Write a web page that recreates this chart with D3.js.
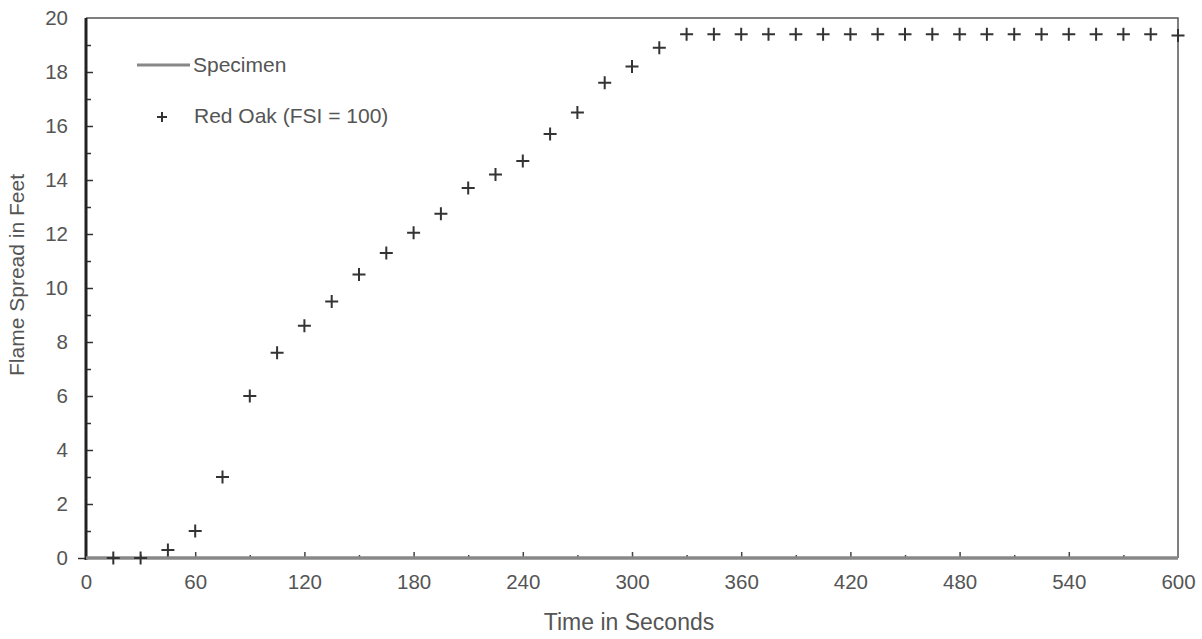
<!DOCTYPE html>
<html>
<head>
<meta charset="utf-8">
<script src="https://cdn.jsdelivr.net/npm/d3@7"></script>
<style>
  body { margin: 0; background: #fff; }
  text { font-family: "Liberation Sans", Arial, sans-serif; fill: #555; }
</style>
</head>
<body>
<div id="chart"></div>
<script>
// Red Oak reference flame spread, sampled every 15 s
var oakTimes = [15, 30, 45, 60, 75, 90, 105, 120, 135, 150, 165, 180, 195, 210, 225, 240,
  255, 270, 285, 300, 315, 330, 345, 360, 375, 390, 405, 420, 435, 450, 465, 480, 495,
  510, 525, 540, 555, 570, 585, 600];
var oakSpread = [0, 0, 0.3, 1.0, 3.0, 6.0, 7.6, 8.6, 9.5, 10.5, 11.3, 12.05, 12.75, 13.7, 14.2, 14.7,
  15.7, 16.5, 17.6, 18.2, 18.9, 19.4, 19.4, 19.4, 19.4, 19.4, 19.4, 19.4, 19.4, 19.4, 19.4, 19.4, 19.4,
  19.4, 19.4, 19.4, 19.4, 19.4, 19.4, 19.35];
// Specimen flame spread (stays at zero)
var specimenTimes = [0, 600];
var specimenSpread = [0, 0];
var xTicks = [0, 60, 120, 180, 240, 300, 360, 420, 480, 540, 600];
var yTicks = [0, 2, 4, 6, 8, 10, 12, 14, 16, 18, 20];

var margin = {top: 18, right: 24, bottom: 81, left: 86},
    width = 1202 - margin.left - margin.right,
    height = 639 - margin.top - margin.bottom;

var svg = d3.select("#chart").append("svg")
    .attr("width", 1202)
    .attr("height", 639)
    .append("g")
    .attr("transform", "translate(" + margin.left + "," + margin.top + ")");

var x = d3.scaleLinear().domain([0, 600]).range([0, width]);
var y = d3.scaleLinear().domain([0, 20]).range([height, 0]);

// frame top and right
svg.append("path")
    .attr("d", "M0," + y(20) + "H" + x(600) + "V" + y(0))
    .attr("fill", "none")
    .attr("stroke", "#555")
    .attr("stroke-width", 1.5);

// minor ticks (inside)
svg.append("g")
    .attr("transform", "translate(0," + height + ")")
    .call(d3.axisTop(x).tickValues(d3.range(30, 600, 60)).tickSize(3).tickFormat(""))
    .call(g => g.select(".domain").remove())
    .selectAll("line").attr("stroke", "#444").attr("stroke-width", 1.5);

svg.append("g")
    .call(d3.axisRight(y).tickValues(d3.range(1, 20, 2)).tickSize(5).tickFormat(""))
    .call(g => g.select(".domain").remove())
    .selectAll("line").attr("stroke", "#333").attr("stroke-width", 1.5);

// x axis
var xAxis = svg.append("g")
    .attr("transform", "translate(0," + height + ")");
xAxis.call(d3.axisBottom(x).tickValues(xTicks).tickSize(0).tickPadding(16))
    .call(g => g.select(".domain").remove());
xAxis.selectAll("text").style("font-size", "20.5px").style("fill", "#555");
svg.append("g")
    .attr("transform", "translate(0," + height + ")")
    .call(d3.axisTop(x).tickValues(xTicks.slice(1, -1)).tickSize(6).tickFormat(""))
    .call(g => g.select(".domain").remove())
    .selectAll("line").attr("stroke", "#444").attr("stroke-width", 1.5);

// y axis
var yAxis = svg.append("g");
yAxis.call(d3.axisLeft(y).tickValues(yTicks).tickSize(0).tickPadding(18))
    .call(g => g.select(".domain").remove());
yAxis.selectAll("text").style("font-size", "20.5px").style("fill", "#555");
svg.append("g")
    .call(d3.axisRight(y).tickValues(yTicks.slice(1, -1)).tickSize(7).tickFormat(""))
    .call(g => g.select(".domain").remove())
    .selectAll("line").attr("stroke", "#333").attr("stroke-width", 1.5);
svg.append("g")
    .call(d3.axisLeft(y).tickValues([0]).tickSize(8).tickFormat(""))
    .call(g => g.select(".domain").remove())
    .selectAll("line").attr("stroke", "#333").attr("stroke-width", 1.5);

svg.append("line")
    .attr("x1", 0).attr("x2", 0)
    .attr("y1", y(20)).attr("y2", y(0) + 2)
    .attr("stroke", "#222")
    .attr("stroke-width", 3);

// specimen line
var line = d3.line().x(d => x(d[0])).y(d => y(d[1]));
svg.append("path")
    .datum(specimenTimes.map((t, i) => [t, specimenSpread[i]]))
    .attr("d", line)
    .attr("fill", "none")
    .attr("stroke", "#888")
    .attr("stroke-width", 3.5);

// red oak markers
svg.append("g")
    .selectAll("path")
    .data(oakTimes.map((t, i) => [t, oakSpread[i]]))
    .enter().append("path")
    .attr("d", d => "M" + (x(d[0]) - 6.5) + "," + y(d[1]) + "h13M" + x(d[0]) + "," + (y(d[1]) - 6.5) + "v13")
    .attr("stroke", "#333")
    .attr("stroke-width", 2);

// legend
svg.append("line")
    .attr("x1", 51).attr("x2", 104)
    .attr("y1", 47).attr("y2", 47)
    .attr("stroke", "#888")
    .attr("stroke-width", 3);
svg.append("text")
    .attr("x", 107).attr("y", 54)
    .style("font-size", "21px")
    .text("Specimen");
svg.append("path")
    .attr("d", "M71,99h10M76,94v10")
    .attr("stroke", "#333")
    .attr("stroke-width", 2);
svg.append("text")
    .attr("x", 108).attr("y", 105)
    .style("font-size", "21px")
    .text("Red Oak (FSI = 100)");

// axis titles
svg.append("text")
    .attr("text-anchor", "middle")
    .attr("x", width / 2 - 3)
    .attr("y", height + 72)
    .style("font-size", "23px")
    .text("Time in Seconds");

svg.append("text")
    .attr("text-anchor", "middle")
    .attr("transform", "rotate(-90)")
    .attr("x", -257)
    .attr("y", -62)
    .style("font-size", "21px")
    .text("Flame Spread in Feet");
</script>
</body>
</html>
